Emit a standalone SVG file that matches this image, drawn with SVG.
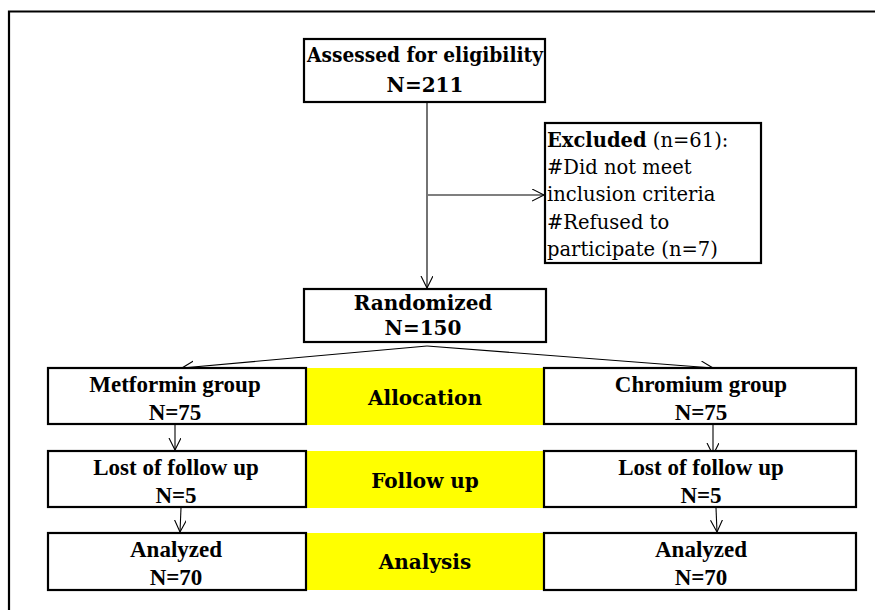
<svg xmlns="http://www.w3.org/2000/svg" width="875" height="610" viewBox="0 0 875 610">
<style>
.box{fill:#fff;stroke:#000;stroke-width:2.2}
.yel{fill:#ffff00;stroke:none}
.cb{font-family:"DejaVu Serif","Liberation Serif",serif;font-weight:bold;font-size:20px;fill:#000;text-anchor:middle}
.cr{font-family:"DejaVu Serif","Liberation Serif",serif;font-size:19.5px;fill:#000}
.tb{font-family:"Liberation Serif","Times New Roman",serif;font-weight:bold;font-size:23px;fill:#000;text-anchor:middle}
.con{stroke:#000;stroke-width:1.1;fill:none;marker-end:url(#arr)}
.frame{stroke:#000;stroke-width:2.2;fill:none}
</style>
<defs>
<marker id="arr" markerUnits="userSpaceOnUse" markerWidth="16" markerHeight="16" refX="12" refY="6" orient="auto">
<path d="M0,0 L12,6 L0,12" fill="none" stroke="#000" stroke-width="1.1"/>
</marker>
</defs>
<rect width="875" height="610" fill="#fff"/>
<path class="frame" d="M9,610 V11.5 H875"/>

<g id="connectors">
<line class="con" x1="427" y1="103" x2="427" y2="288"/>
<line class="con" x1="428" y1="195" x2="544" y2="195"/>
<line class="con" x1="427" y1="346" x2="182" y2="368"/>
<line class="con" x1="427" y1="346" x2="713" y2="368"/>
<line class="con" x1="175" y1="425" x2="175" y2="450"/>
<line class="con" x1="181" y1="508" x2="180" y2="532"/>
<line class="con" x1="713" y1="425" x2="713" y2="455"/>
<line class="con" x1="716" y1="508" x2="717" y2="532"/>
</g>

<g id="assessed">
<rect class="box" x="304" y="39" width="241" height="63"/>
<text class="cb" x="425" y="62" font-size="19" textLength="236" lengthAdjust="spacingAndGlyphs">Assessed for eligibility</text>
<text class="cb" x="425" y="92">N=211</text>
</g>

<g id="excluded">
<rect class="box" x="545" y="123" width="216" height="140"/>
<text class="cr" x="547" y="147"><tspan font-weight="bold">Excluded</tspan> (n=61):</text>
<text class="cr" x="547" y="174">#Did not meet</text>
<text class="cr" x="547" y="201">inclusion criteria</text>
<text class="cr" x="547" y="229">#Refused to</text>
<text class="cr" x="547" y="256">participate (n=7)</text>
</g>

<g id="randomized">
<rect class="box" x="304" y="289" width="242" height="53"/>
<text class="cb" x="423" y="310">Randomized</text>
<text class="cb" x="423" y="335">N=150</text>
</g>

<g id="allocation">
<rect class="yel" x="307" y="368" width="237" height="57"/>
<text class="cb" x="425" y="405">Allocation</text>
</g>
<g id="followup">
<rect class="yel" x="307" y="451" width="237" height="57"/>
<text class="cb" x="425" y="488">Follow up</text>
</g>
<g id="analysis">
<rect class="yel" x="307" y="533" width="237" height="57"/>
<text class="cb" x="425" y="569">Analysis</text>
</g>

<g id="metformin">
<rect class="box" x="48" y="368" width="258" height="56"/>
<text class="tb" x="175" y="392">Metformin group</text>
<text class="tb" x="175" y="420">N=75</text>
</g>
<g id="lost-left">
<rect class="box" x="48" y="451" width="258" height="56"/>
<text class="tb" x="176" y="475">Lost of follow up</text>
<text class="tb" x="176" y="503">N=5</text>
</g>
<g id="analyzed-left">
<rect class="box" x="48" y="533" width="258" height="57"/>
<text class="tb" x="176" y="557">Analyzed</text>
<text class="tb" x="176" y="585">N=70</text>
</g>

<g id="chromium">
<rect class="box" x="544" y="368" width="312" height="56"/>
<text class="tb" x="701" y="392">Chromium group</text>
<text class="tb" x="701" y="420">N=75</text>
</g>
<g id="lost-right">
<rect class="box" x="544" y="451" width="312" height="56"/>
<text class="tb" x="701" y="475">Lost of follow up</text>
<text class="tb" x="701" y="503">N=5</text>
</g>
<g id="analyzed-right">
<rect class="box" x="544" y="533" width="312" height="57"/>
<text class="tb" x="701" y="557">Analyzed</text>
<text class="tb" x="701" y="585">N=70</text>
</g>
</svg>
